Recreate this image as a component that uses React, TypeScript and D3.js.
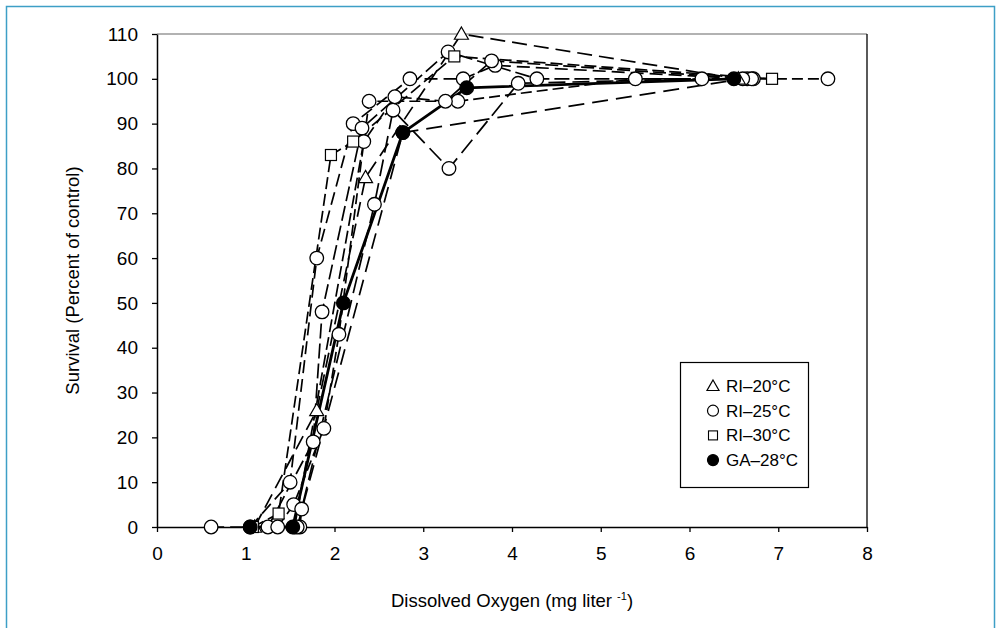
import React, { useRef, useEffect } from 'react';
import * as d3 from 'd3';

type Pt = [number, number];

// Dissolved oxygen (mg/l), survival (% of control)
const ri20A: Pt[] = [[1.1, 0], [1.8, 26], [2.35, 78], [3.43, 110], [6.55, 100]];

const ri25A: Pt[] = [[0.61, 0], [1.05, 0], [1.5, 10], [1.8, 60], [2.21, 90], [2.85, 100], [3.45, 100], [3.81, 103], [6.65, 100]];
const ri25B: Pt[] = [[1.25, 0], [1.76, 19], [1.86, 48], [2.31, 89], [3.28, 106], [4.28, 100], [6.72, 100]];
const ri25C: Pt[] = [[1.36, 0], [1.54, 5], [1.88, 22], [2.05, 43], [2.39, 95], [3.39, 95], [5.39, 100], [7.56, 100]];
const ri25D: Pt[] = [[1.61, 0], [1.63, 4], [2.45, 72], [2.66, 93], [3.29, 80], [4.07, 99], [6.14, 100]];
const ri25E: Pt[] = [[1.55, 0], [2.33, 86], [2.68, 96], [3.25, 95], [3.77, 104], [6.7, 100]];
const ri25F: Pt[] = [[1.58, 0], [2.77, 88], [6.6, 100]];

const ri30A: Pt[] = [[1.08, 0], [1.37, 3], [1.96, 83], [2.21, 86], [3.35, 105], [6.93, 100]];

const ga28: Pt[] = [[1.05, 0], [1.53, 0], [2.1, 50], [2.77, 88], [3.49, 98], [6.5, 100]];

const xTicks = [0, 1, 2, 3, 4, 5, 6, 7, 8];
const yTicks = [0, 10, 20, 30, 40, 50, 60, 70, 80, 90, 100, 110];
const legendLabels = ['RI\u201320\u00B0C', 'RI\u201325\u00B0C', 'RI\u201330\u00B0C', 'GA\u201328\u00B0C'];

type Marker = 'triangle' | 'circle' | 'square' | 'filled';

const series: { pts: Pt[]; marker: Marker; dash: string; width: number }[] = [
  { pts: ri25A, marker: 'circle', dash: '13,6', width: 1.7 },
  { pts: ri25B, marker: 'circle', dash: '15,5', width: 1.7 },
  { pts: ri25C, marker: 'circle', dash: '11,5', width: 1.7 },
  { pts: ri25D, marker: 'circle', dash: '17,7', width: 1.7 },
  { pts: ri25E, marker: 'circle', dash: '13,5', width: 1.7 },
  { pts: ri25F, marker: 'circle', dash: '16,8', width: 1.7 },
  { pts: ri20A, marker: 'triangle', dash: '15,7', width: 1.7 },
  { pts: ri30A, marker: 'square', dash: '12,5', width: 1.7 },
  { pts: ga28, marker: 'filled', dash: 'none', width: 2.8 },
];

const font = 'Liberation Sans, Arial, sans-serif';

function drawMarker(g: d3.Selection<SVGGElement, unknown, null, undefined>, m: Marker, x: number, y: number) {
  if (m === 'circle' || m === 'filled') {
    g.append('circle').attr('cx', x).attr('cy', y).attr('r', 6.8)
      .attr('fill', m === 'filled' ? '#000' : '#fff').attr('stroke', '#000').attr('stroke-width', 1.3);
  } else if (m === 'square') {
    g.append('rect').attr('x', x - 5.5).attr('y', y - 5.5).attr('width', 11).attr('height', 11)
      .attr('fill', '#fff').attr('stroke', '#000').attr('stroke-width', 1.2);
  } else {
    const s = 7;
    g.append('path').attr('d', `M${x},${y - s}L${x + s},${y + s * 0.75}L${x - s},${y + s * 0.75}Z`)
      .attr('fill', '#fff').attr('stroke', '#000').attr('stroke-width', 1.2);
  }
}

function chart(node: SVGSVGElement) {
  const svg = d3.select(node);
  svg.selectAll('*').remove();

  const width = 997, height = 628;
  const margin = { top: 34, right: 130, bottom: 101, left: 157 };

  svg.append('rect').attr('x', 6.5).attr('y', 6.5).attr('width', 988).attr('height', 640)
    .attr('fill', '#fff').attr('stroke', '#3d9fc6').attr('stroke-width', 1.5);

  const x = d3.scaleLinear().domain([0, 8]).range([margin.left, width - margin.right]);
  const y = d3.scaleLinear().domain([0, 110]).range([height - margin.bottom, margin.top]);

  // frame top and right
  svg.append('line').attr('x1', x(0)).attr('x2', x(8)).attr('y1', y(110)).attr('y2', y(110))
    .attr('stroke', '#666').attr('stroke-width', 1.2);
  svg.append('line').attr('x1', x(8)).attr('x2', x(8)).attr('y1', y(110)).attr('y2', y(0))
    .attr('stroke', '#000').attr('stroke-width', 1.3);

  const xAxis = d3.axisBottom(x).tickValues(xTicks).tickSize(5).tickSizeOuter(0).tickPadding(15).tickFormat(d3.format('d'));
  const yAxis = d3.axisLeft(y).tickValues(yTicks).tickSize(5).tickSizeOuter(0).tickPadding(14).tickFormat(d3.format('d'));

  const gx = svg.append('g').attr('transform', `translate(0,${y(0)})`).call(xAxis);
  const gy = svg.append('g').attr('transform', `translate(${x(0)},0)`).call(yAxis);
  [gx, gy].forEach(g => {
    g.selectAll('path').attr('stroke', '#000').attr('stroke-width', 1.5);
    g.selectAll('line').attr('stroke', '#000').attr('stroke-width', 1.3);
    g.selectAll('text').attr('font-family', font).attr('font-size', 19).attr('fill', '#000');
  });

  const line = d3.line<Pt>().x(d => x(d[0])).y(d => y(d[1]));
  const lines = svg.append('g');
  series.forEach(s => {
    lines.append('path').attr('d', line(s.pts)).attr('fill', 'none').attr('stroke', '#000')
      .attr('stroke-width', s.width).attr('stroke-dasharray', s.dash);
  });

  const marks = svg.append('g');
  series.forEach(s => s.pts.forEach(p => drawMarker(marks, s.marker, x(p[0]), y(p[1]))));

  // axis titles
  const xt = svg.append('text').attr('x', 512).attr('y', 607).attr('text-anchor', 'middle')
    .attr('font-family', font).attr('font-size', 18.5);
  xt.append('tspan').text('Dissolved Oxygen (mg liter ');
  xt.append('tspan').attr('font-size', 11).attr('dy', -7).text('-1');
  xt.append('tspan').attr('dy', 7).text(')');

  svg.append('text').attr('transform', `translate(79,${(y(0) + y(110)) / 2}) rotate(-90)`)
    .attr('text-anchor', 'middle').attr('font-family', font).attr('font-size', 18.5)
    .text('Survival (Percent of control)');

  // legend
  const lg = svg.append('g');
  lg.append('rect').attr('x', 680.5).attr('y', 362.5).attr('width', 128).attr('height', 125)
    .attr('fill', '#fff').attr('stroke', '#000').attr('stroke-width', 1.2);
  const legendMarkers: Marker[] = ['triangle', 'circle', 'square', 'filled'];
  legendLabels.forEach((lab, i) => {
    const cy = 386 + i * 24.7;
    const gm = lg.append('g');
    if (legendMarkers[i] === 'circle' || legendMarkers[i] === 'filled') {
      gm.append('circle').attr('cx', 713).attr('cy', cy).attr('r', 5.5)
        .attr('fill', legendMarkers[i] === 'filled' ? '#000' : '#fff').attr('stroke', '#000').attr('stroke-width', 1.2);
    } else if (legendMarkers[i] === 'square') {
      gm.append('rect').attr('x', 708.5).attr('y', cy - 4.5).attr('width', 9).attr('height', 9)
        .attr('fill', '#fff').attr('stroke', '#000').attr('stroke-width', 1.1);
    } else {
      gm.append('path').attr('d', `M713,${cy - 6}L719,${cy + 4.5}L707,${cy + 4.5}Z`)
        .attr('fill', '#fff').attr('stroke', '#000').attr('stroke-width', 1.2);
    }
    lg.append('text').attr('x', 726).attr('y', cy + 6).attr('font-family', font).attr('font-size', 17)
      .text(lab);
  });
}

export default function App() {
  const ref = useRef<SVGSVGElement>(null);
  useEffect(() => {
    if (ref.current) chart(ref.current);
  }, []);
  return (
    <svg ref={ref} width={997} height={628}
      style={{ position: 'absolute', left: 0, top: 0, display: 'block' }} />
  );
}
